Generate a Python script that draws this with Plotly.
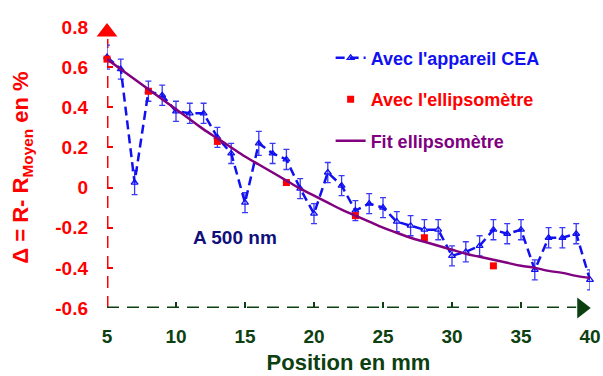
import plotly.graph_objects as go

# Blue series: "Avec l'appareil CEA"
cea_x = list(range(5, 41))
cea_y = [0.65, 0.59, 0.025, 0.48, 0.46, 0.38, 0.37, 0.37, 0.25, 0.17, -0.075, 0.22,
         0.17, 0.14, -0.005, -0.13, 0.075, 0.01, -0.115, -0.08, -0.10, -0.17, -0.19, -0.21,
         -0.21, -0.34, -0.32, -0.29, -0.21, -0.23, -0.21, -0.41, -0.25, -0.25, -0.23, -0.46]
cea_err = [0.06, 0.05, 0.06, 0.05, 0.05, 0.05, 0.05, 0.05, 0.05, 0.05, 0.05, 0.06,
           0.05, 0.05, 0.05, 0.05, 0.05, 0.05, 0.05, 0.05, 0.05, 0.05, 0.05, 0.05,
           0.05, 0.05, 0.05, 0.05, 0.05, 0.05, 0.05, 0.05, 0.05, 0.05, 0.05, 0.05]

# Red squares: "Avec l'ellipsomètre"
ell_x = [5, 8, 13, 18, 23, 28, 33]
ell_y = [0.64, 0.48, 0.23, 0.025, -0.14, -0.25, -0.39]

# Purple fit curve
fit_x = list(range(5, 41))
fit_y = [0.64, 0.59, 0.54, 0.49, 0.44, 0.39, 0.34, 0.29, 0.245, 0.20, 0.155, 0.115,
         0.075, 0.035, -0.005, -0.04, -0.075, -0.11, -0.14, -0.17, -0.20, -0.225, -0.25, -0.27,
         -0.29, -0.31, -0.33, -0.345, -0.36, -0.375, -0.39, -0.40, -0.415, -0.425, -0.44, -0.45]

x_ticks = [5, 10, 15, 20, 25, 30, 35, 40]
y_ticks = [-0.6, -0.4, -0.2, 0, 0.2, 0.4, 0.6, 0.8]
y_ticktext = ["-0.6", "-0.4", "-0.2", "0", "0.2", "0.4", "0.6", "0.8"]

BLUE = "#1010f0"
RED = "#ff0000"
PURPLE = "#800080"
GREEN = "#0d4010"
NAVY = "#10107a"
FONT = "Liberation Sans, Arial, sans-serif"

fig = go.Figure()

# axis arrows (decoration)
fig.add_trace(go.Scatter(x=[5], y=[0.775], mode="markers", showlegend=False, hoverinfo="skip",
                         marker=dict(symbol="triangle-up", size=18, color=RED), cliponaxis=False))
fig.add_trace(go.Scatter(x=[39.4], y=[-0.6], mode="markers", showlegend=False, hoverinfo="skip",
                         marker=dict(symbol="triangle-right", size=18, color=GREEN), cliponaxis=False))

fig.add_trace(go.Scatter(
    x=cea_x, y=cea_y, mode="lines+markers", name=f"<span style='color:{BLUE}'>Avec l'appareil CEA</span>",
    legendgroup="a",
    line=dict(color=BLUE, width=2.5, dash="9px,5px"),
    marker=dict(symbol="triangle-up-open", size=6, color=BLUE, line=dict(width=1.3)),
    error_y=dict(type="data", array=cea_err, visible=True, color="#3a3af5", thickness=1.3, width=3),
    cliponaxis=False,
))
fig.add_trace(go.Scatter(
    x=ell_x, y=ell_y, mode="markers", name=f"<span style='color:{RED}'>Avec l'ellipsomètre</span>",
    legendgroup="b",
    marker=dict(symbol="square", size=7, color=RED), cliponaxis=False,
))
fig.add_trace(go.Scatter(
    x=fit_x, y=fit_y, mode="lines", name=f"<span style='color:{PURPLE}'>Fit ellipsomètre</span>",
    legendgroup="c",
    line=dict(color=PURPLE, width=2.5, shape="spline"), cliponaxis=False,
))

# dashed axis lines
fig.add_shape(type="line", x0=5, x1=5, y0=-0.6, y1=0.74, xref="x", yref="y",
              line=dict(color=RED, width=3, dash="12px,8px"), layer="below")
fig.add_shape(type="line", x0=5, x1=39, y0=-0.6, y1=-0.6, xref="x", yref="y",
              line=dict(color=GREEN, width=3, dash="12px,8px"), layer="below")

fig.add_annotation(x=14.3, y=-0.25, text="<b>A 500 nm</b>", showarrow=False,
                   font=dict(family=FONT, size=19, color=NAVY))

fig.update_layout(
    width=603, height=376,
    margin=dict(l=107, r=13, t=27, b=68),
    paper_bgcolor="white", plot_bgcolor="white",
    font=dict(family=FONT),
    showlegend=True,
    legend=dict(x=0.463, y=0.955, xanchor="left", yanchor="top", bgcolor="rgba(0,0,0,0)",
                font=dict(family=FONT, size=18, weight="bold"),
                tracegroupgap=15, traceorder="grouped"),
    xaxis=dict(range=[5, 40], tickvals=x_ticks, showgrid=False, zeroline=False, showline=False,
               automargin=False, ticklabelstandoff=15,
               ticks="inside", ticklen=6, tickwidth=2, tickcolor=GREEN,
               tickfont=dict(family=FONT, size=19, color=GREEN, weight="bold"),
               title=dict(text="<b>Position en mm</b>", font=dict(family=FONT, size=22, color=GREEN), standoff=8)),
    yaxis=dict(range=[-0.6, 0.8], tickvals=y_ticks, ticktext=y_ticktext, showgrid=False, zeroline=False,
               showline=False, automargin=False, ticklabelstandoff=18,
               ticks="inside", ticklen=6, tickwidth=2, tickcolor=RED,
               tickfont=dict(family=FONT, size=19, color=RED, weight="bold"),
               title=dict(text="<b>Δ = R- R<sub>Moyen</sub> en %</b>", font=dict(family=FONT, size=22, color=RED), standoff=20)),
)

fig.write_html("out.html", config={"displayModeBar": False},
               post_script="document.body.style.margin='0';")
